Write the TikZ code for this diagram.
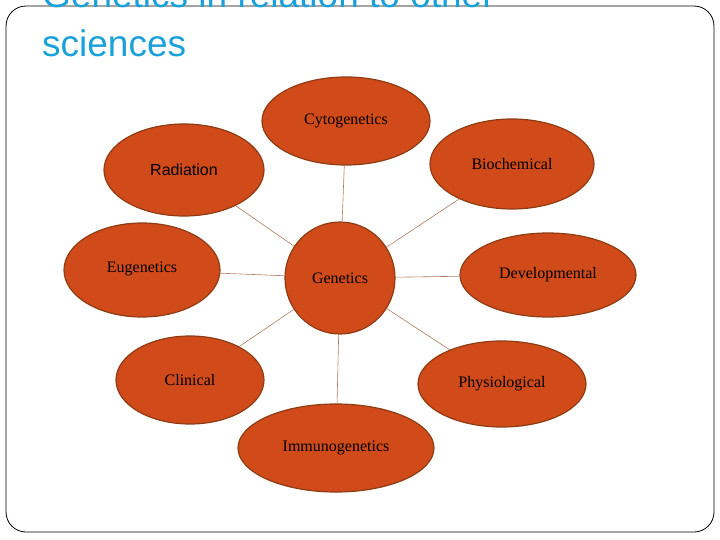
\documentclass[tikz,border=0pt]{standalone}
\usepackage{fontspec}
\setmainfont{Liberation Serif}
\setsansfont{Liberation Sans}
\usetikzlibrary{shapes.geometric}
\definecolor{nodefill}{HTML}{D04A1A}
\definecolor{nodeline}{HTML}{8E3C12}
\definecolor{titleblue}{HTML}{1BA1D9}
\definecolor{linkc}{HTML}{B07A60}
\begin{document}
\begin{tikzpicture}[x=1pt,y=-1pt,
  bub/.style={ellipse,draw=nodeline,line width=1.2pt,fill=nodefill,inner sep=0pt,font=\fontsize{16}{18}\selectfont},
  link/.style={draw=linkc,line width=0.6pt}]
\useasboundingbox (0,0) rectangle (720,540);
\begin{scope}
\clip (0,0) rectangle (720,540);
\draw[black,line width=0.8pt,rounded corners=20pt] (6,6) rectangle (714,532);
\node[anchor=base west,inner sep=0pt,text=titleblue,font=\sffamily\fontsize{37}{40}\selectfont] (t1) at (42,8) {Genetics in relation to other};
\node[anchor=base west,inner sep=0pt,text=titleblue,font=\sffamily\fontsize{37}{40}\selectfont] (t2) at (42,57) {sciences};
\end{scope}
\node[bub,minimum width=168pt,minimum height=88pt] (cyto) at (346,121) {Cytogenetics};
\node[bub,minimum width=164pt,minimum height=90pt] (bio) at (512,164) {Biochemical};
\node[bub,minimum width=160pt,minimum height=92pt,font=\sffamily\fontsize{16}{18}\selectfont] (rad) at (184,170) {Radiation};
\node[bub,minimum width=156pt,minimum height=94pt] (eug) at (142,270) {\raisebox{6pt}{Eugenetics}};
\node[bub,minimum width=110pt,minimum height=112pt] (gen) at (340,278) {Genetics};
\node[bub,minimum width=176pt,minimum height=84pt] (dev) at (548,275) {Developmental};
\node[bub,minimum width=148pt,minimum height=88pt] (cli) at (190,380) {Clinical};
\node[bub,minimum width=168pt,minimum height=86pt] (phy) at (502,384) {Physiological};
\node[bub,minimum width=196pt,minimum height=88pt] (imm) at (336,448) {Immunogenetics};
\draw[link] (cyto) -- (gen);
\draw[link] (rad) -- (gen);
\draw[link] (bio) -- (gen);
\draw[link] (eug) -- (gen);
\draw[link] (dev) -- (gen);
\draw[link] (cli) -- (gen);
\draw[link] (phy) -- (gen);
\draw[link] (imm) -- (gen);
\end{tikzpicture}
\end{document}
